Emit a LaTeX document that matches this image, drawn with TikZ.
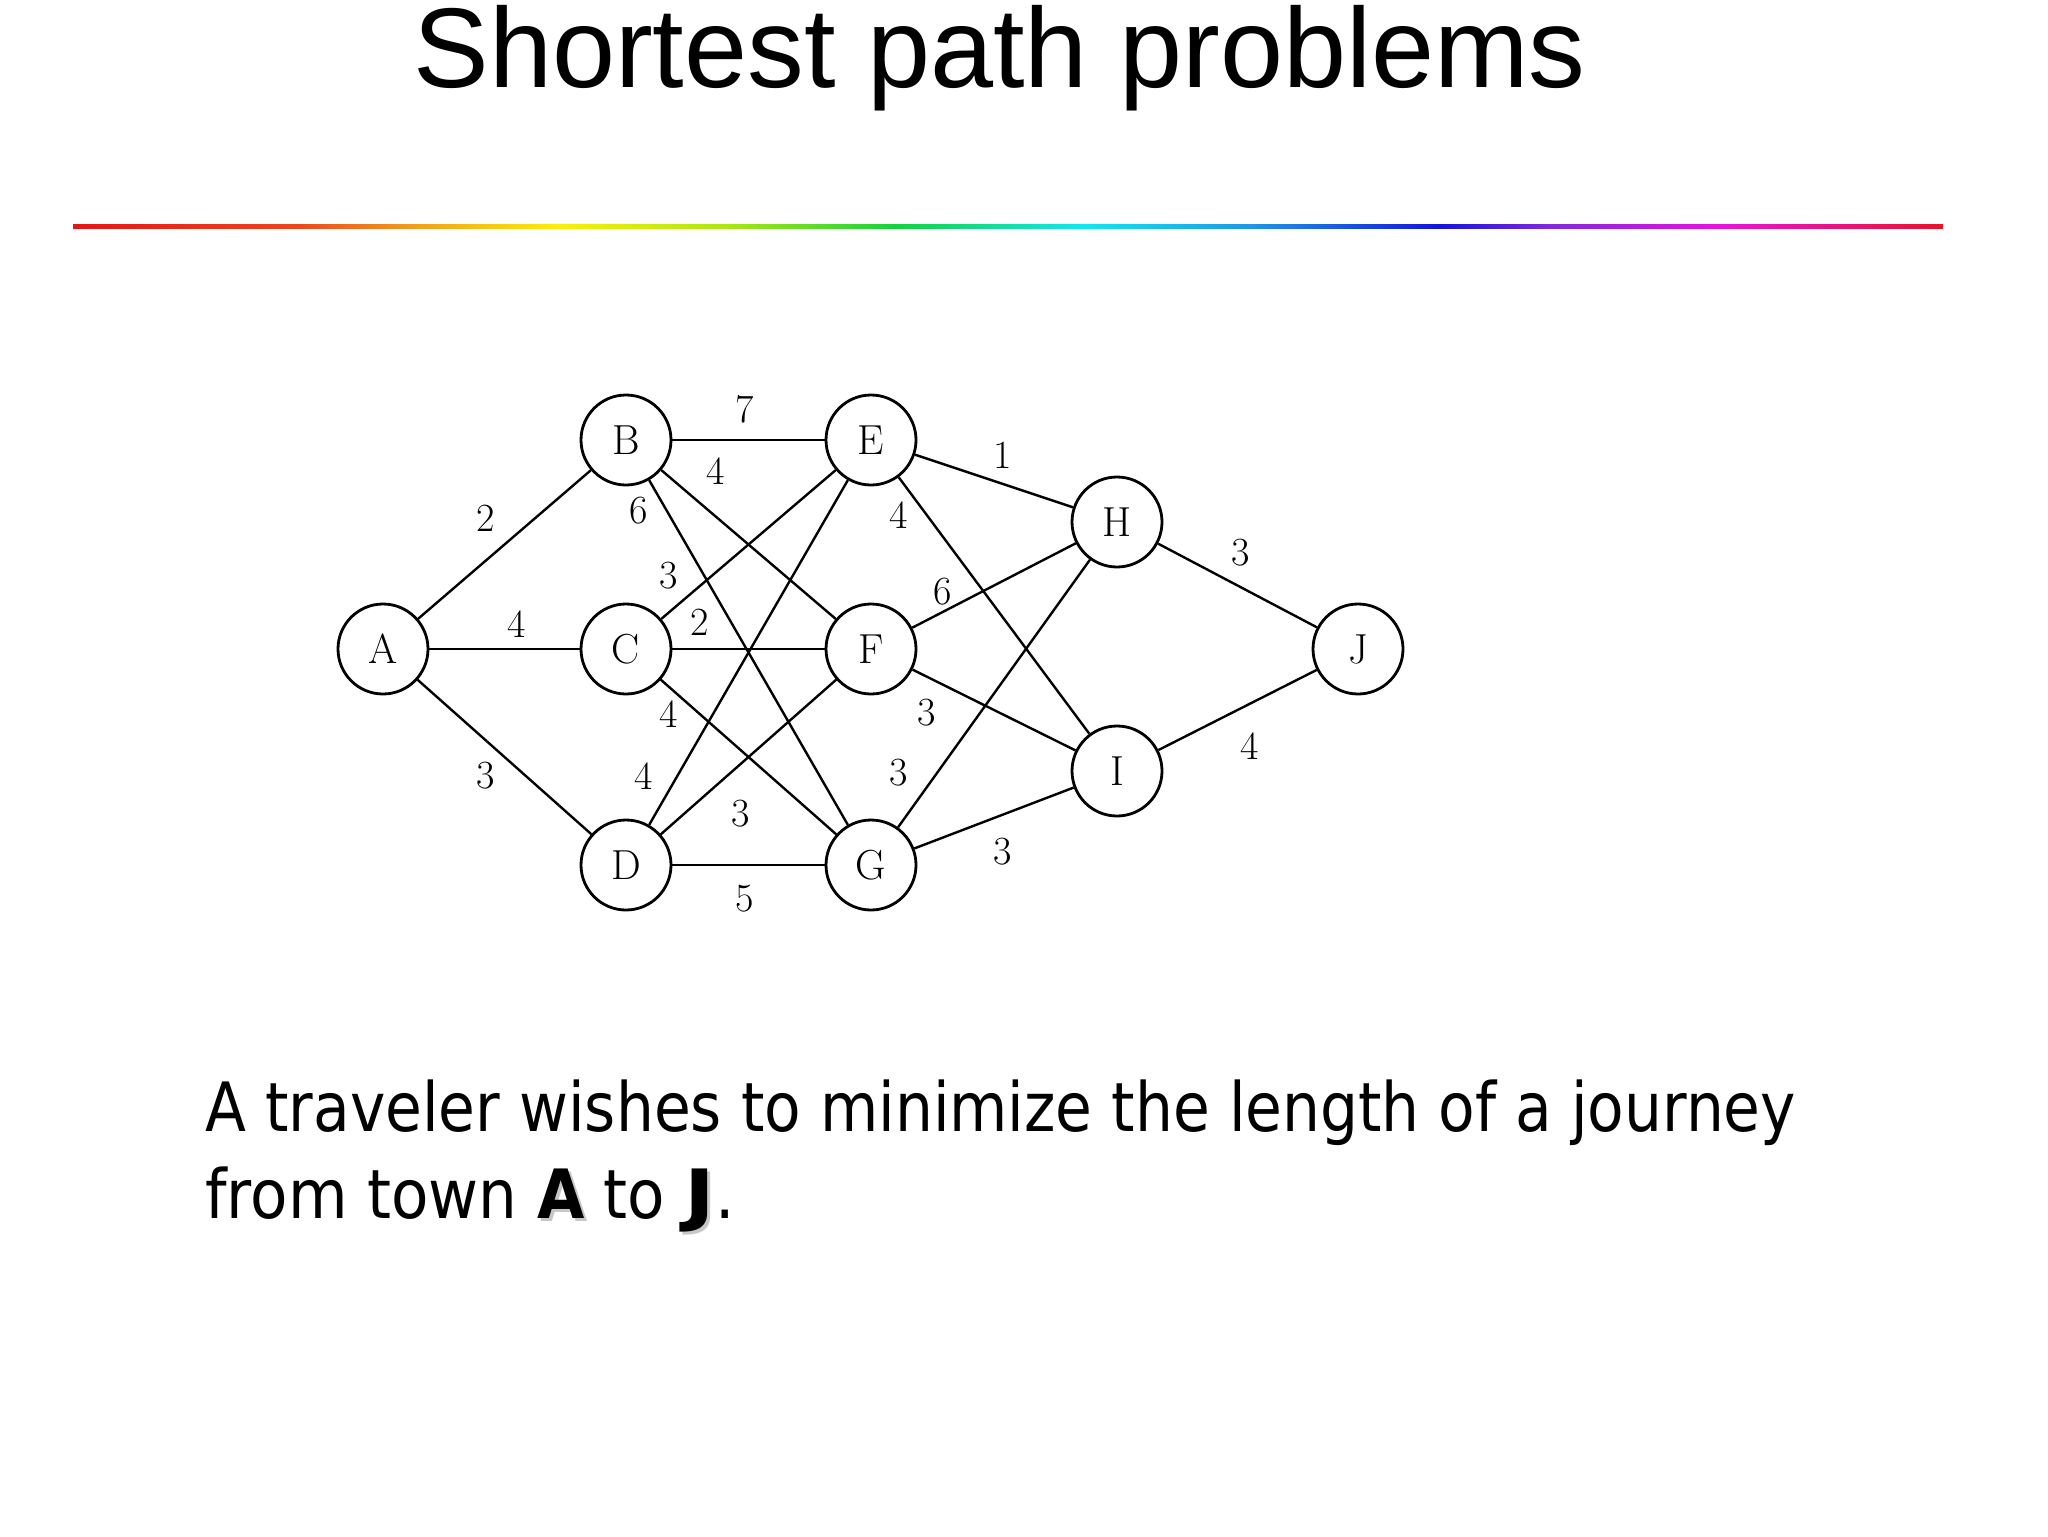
\documentclass[tikz,border=0pt]{standalone}
\usepackage{fontspec}
\usepackage{graphicx}
\newfontfamily\titlefont{Liberation Sans}
\newfontfamily\bodyfont{DejaVu Sans}
\definecolor{rbA}{RGB}{228,22,22}
\definecolor{rbB}{RGB}{236,70,30}
\definecolor{rbC}{RGB}{242,155,30}
\definecolor{rbD}{RGB}{250,240,10}
\definecolor{rbE}{RGB}{170,230,20}
\definecolor{rbF}{RGB}{20,210,60}
\definecolor{rbG}{RGB}{20,230,240}
\definecolor{rbH}{RGB}{30,150,230}
\definecolor{rbI}{RGB}{20,20,220}
\definecolor{rbJ}{RGB}{130,40,220}
\definecolor{rbK}{RGB}{230,20,220}
\definecolor{rbL}{RGB}{230,20,40}
\pgfdeclarehorizontalshading{rainbow}{100bp}{color(0bp)=(rbA); color(25bp)=(rbA); color(31bp)=(rbB); color(34bp)=(rbC); color(38bp)=(rbD); color(42.5bp)=(rbE); color(47bp)=(rbF); color(52bp)=(rbG); color(56.5bp)=(rbH); color(61.5bp)=(rbI); color(64.5bp)=(rbJ); color(69bp)=(rbK); color(75bp)=(rbL); color(100bp)=(rbL)}
\newcommand\shbf[1]{\makebox[0pt][l]{\kern1.8pt\raisebox{-1.8pt}{\textcolor{black!22}{\bfseries #1}}}{\bfseries #1}}
\tikzset{
  vtx/.style={circle, draw, line width=1.4pt, minimum size=45pt, inner sep=0pt, font=\fontsize{21}{24}\selectfont},
  edge/.style={line width=1.2pt},
  wlab/.style={inner sep=0pt, font=\fontsize{20}{24}\selectfont}
}
\begin{document}
\begin{tikzpicture}[x=0.5pt,y=-0.5pt]
\useasboundingbox[fill=white] (0,0) rectangle (2048,1536);
\node[anchor=base west, inner sep=0pt] (title) at (413,88) {\titlefont\fontsize{56.7}{60}\selectfont Shortest path problems};
\shade[shading=rainbow] (73,224.5) rectangle (1943,228.5);
% vertices
\node[vtx] (A) at (383,649) {A};
\node[vtx] (B) at (626,440) {B};
\node[vtx] (C) at (626,649) {C};
\node[vtx] (D) at (626,865) {D};
\node[vtx] (E) at (871,440) {E};
\node[vtx] (F) at (871,649) {F};
\node[vtx] (G) at (871,865) {G};
\node[vtx] (H) at (1117,522) {H};
\node[vtx] (I) at (1117,771) {I};
\node[vtx] (J) at (1358,649) {J};
% edges
\draw[edge] (A) -- (B);
\draw[edge] (A) -- (C);
\draw[edge] (A) -- (D);
\draw[edge] (B) -- (E);
\draw[edge] (B) -- (F);
\draw[edge] (B) -- (G);
\draw[edge] (C) -- (E);
\draw[edge] (C) -- (F);
\draw[edge] (C) -- (G);
\draw[edge] (D) -- (E);
\draw[edge] (D) -- (F);
\draw[edge] (D) -- (G);
\draw[edge] (E) -- (H);
\draw[edge] (E) -- (I);
\draw[edge] (F) -- (H);
\draw[edge] (F) -- (I);
\draw[edge] (G) -- (H);
\draw[edge] (G) -- (I);
\draw[edge] (H) -- (J);
\draw[edge] (I) -- (J);
% weights
\node[wlab] (wAB) at (486,518) {2};
\node[wlab] (wAC) at (517,624) {4};
\node[wlab] (wAD) at (486,776) {3};
\node[wlab] (wBE) at (745,409) {7};
\node[wlab] (wBF) at (716,471) {4};
\node[wlab] (wBG) at (639,511) {6};
\node[wlab] (wCE) at (669,576) {3};
\node[wlab] (wCF) at (700,622) {2};
\node[wlab] (wCG) at (669,714) {4};
\node[wlab] (wDE) at (644,776) {4};
\node[wlab] (wDF) at (741,814) {3};
\node[wlab] (wDG) at (745,899) {5};
\node[wlab] (wEH) at (1003,455) {1};
\node[wlab] (wEI) at (899,515) {4};
\node[wlab] (wFH) at (943,592) {6};
\node[wlab] (wFI) at (927,713) {3};
\node[wlab] (wGH) at (899,773) {3};
\node[wlab] (wGI) at (1003,852) {3};
\node[wlab] (wHJ) at (1241,553) {3};
\node[wlab] (wIJ) at (1250,746) {4};
% text
\node[anchor=base west, inner sep=0pt] (line1) at (205,1131) {\bodyfont\fontsize{34}{40}\selectfont\scalebox{0.88}[1]{A traveler wishes to minimize the length of a journey}};
\node[anchor=base west, inner sep=0pt] (line2) at (205,1218) {\bodyfont\fontsize{34}{40}\selectfont\scalebox{0.9}[1]{from town \shbf{A} to \shbf{\scalebox{1.35}[1]{J}}.}};
\end{tikzpicture}
\end{document}
